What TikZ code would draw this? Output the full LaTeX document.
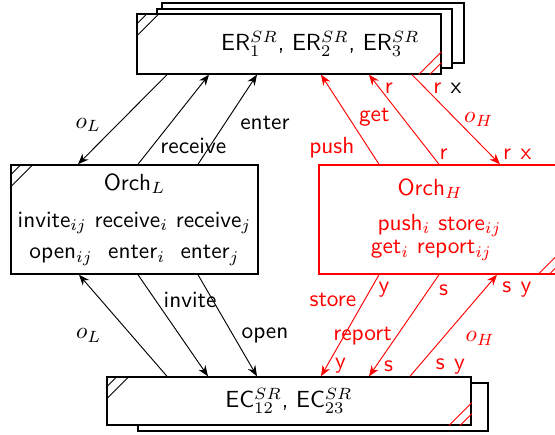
\documentclass[tikz,border=0pt]{standalone}
\usepackage{amsmath}
\usetikzlibrary{arrows.meta}
\usetikzlibrary{positioning}

\begin{document}
\begin{tikzpicture}[x=0.429pt,y=-0.429pt,->,>={Stealth[length=4.6pt,width=3.6pt]},font=\sffamily,
	box/.style={rectangle,draw,line width=0.6pt,fill=white,inner sep=0pt,align=center},
	layer/.style={-,draw,line width=0.6pt,fill=white},
	hatch/.style={-,line width=0.4pt}]
	
	\clip (0,0) rectangle (555,435);
	
	% copies stacked behind the front boxes
	\draw[layer] (162,3) rectangle (464,63);
	\draw[layer] (157,9) rectangle (452,68);
	\draw[layer] (138,383) rectangle (488,431);
	
	\node[box,minimum width=130.4pt,minimum height=25.7pt,text width=112pt,align=right,inner xsep=9pt] (er) at (289,44) {ER$_1^{SR}$, ER$_2^{SR}$, ER$_3^{SR}$};
	\node[box,minimum width=106pt,minimum height=46.8pt] (orl) at (134.5,219.5) {Orch$_L$\\[4pt] invite$_{ij}$ receive$_i$ receive$_j$\\[1.5pt] open$_{ij}$\ \ enter$_i$\ \ enter$_j$};
	\node[box,draw=red,text=red,minimum width=103.4pt,minimum height=46.8pt] (orh) at (439.5,219.5) {Orch$_H$\hspace*{8pt}\\[3pt] push$_i$ store$_{ij}$\hspace*{7pt}\\[-2pt] get$_i$ report$_{ij}$\hspace*{7pt}};
	\node[box,minimum width=156.2pt,minimum height=20.6pt] (ec) at (289,401) {EC$_{12}^{SR}$, EC$_{23}^{SR}$};
	
	% corner marks
	\draw[hatch] (er.north west) ++(0,11) -- ++(11,-11) (er.north west) ++(0,23) -- ++(23,-23);
	\draw[hatch] (orl.north west) ++(0,11) -- ++(11,-11) (orl.north west) ++(0,23) -- ++(23,-23);
	\draw[hatch] (ec.north west) ++(0,11) -- ++(11,-11) (ec.north west) ++(0,23) -- ++(23,-23);
	\draw[hatch,red] (er.south east) ++(-23,0) -- ++(23,-23) (er.south east) ++(-12,0) -- ++(12,-12);
	\draw[hatch,red] (orh.south east) ++(-23,0) -- ++(23,-23) (orh.south east) ++(-12,0) -- ++(12,-12);
	\draw[hatch,red] (ec.south east) ++(-23,0) -- ++(23,-23) (ec.south east) ++(-12,0) -- ++(12,-12);
	
	\path
	(167,0 |- er.south) edge node[pos=.56,left=3.5pt] {$o_L$} (78,0 |- orl.north)
	(138,0 |- orl.north) edge node[pos=.2,right] {receive} (209,0 |- er.south)
	(198,0 |- orl.north) edge node[pos=.46,right=3pt] {enter} (257,0 |- er.south)
	(167,0 |- ec.north) edge node[pos=.4,left=9.5pt] {$o_L$} (79,0 |- orl.south)
	(138,0 |- orl.south) edge node[pos=.25,right] {invite} (208,0 |- ec.north)
	(198,0 |- orl.south) edge node[pos=.6,right] {open} (257,0 |- ec.north);
	
	\begin{scope}[red]
	\path
	(379,0 |- orh.north) edge node[pos=.19,left=2.3pt] {push} (321,0 |- er.south)
	(439,0 |- orh.north) edge node[pos=.11,right] {r} node[pos=.53,left=1.8pt] {get} node[pos=.85,right=-1.2pt] {r} (369,0 |- er.south)
	(412,0 |- er.south) edge node[pos=.15,right] {r\hspace{4pt}\textcolor{black}{x}} node[pos=.5,right] {$o_H$} node[pos=.89,right=2pt] {r\hspace{4pt}x} (500,0 |- orh.north)
	(379,0 |- orh.south) edge node[pos=.15,right] {y} node[pos=.25,left] {store} node[pos=.9,right] {y} (321,0 |- ec.north)
	(439,0 |- orh.south) edge node[pos=.15,right=1pt] {s} node[pos=.6,left=-1.3pt] {report} node[pos=.9,right] {s} (369,0 |- ec.north)
	(410,0 |- ec.north) edge node[pos=.1,right=3.8pt] {s\hspace{4pt}y} node[pos=.37,right=6.5pt] {$o_H$} node[pos=.85,right=4.4pt] {s\hspace{4pt}y} (497,0 |- orh.south);
	\end{scope}
	
\end{tikzpicture}
\end{document}
